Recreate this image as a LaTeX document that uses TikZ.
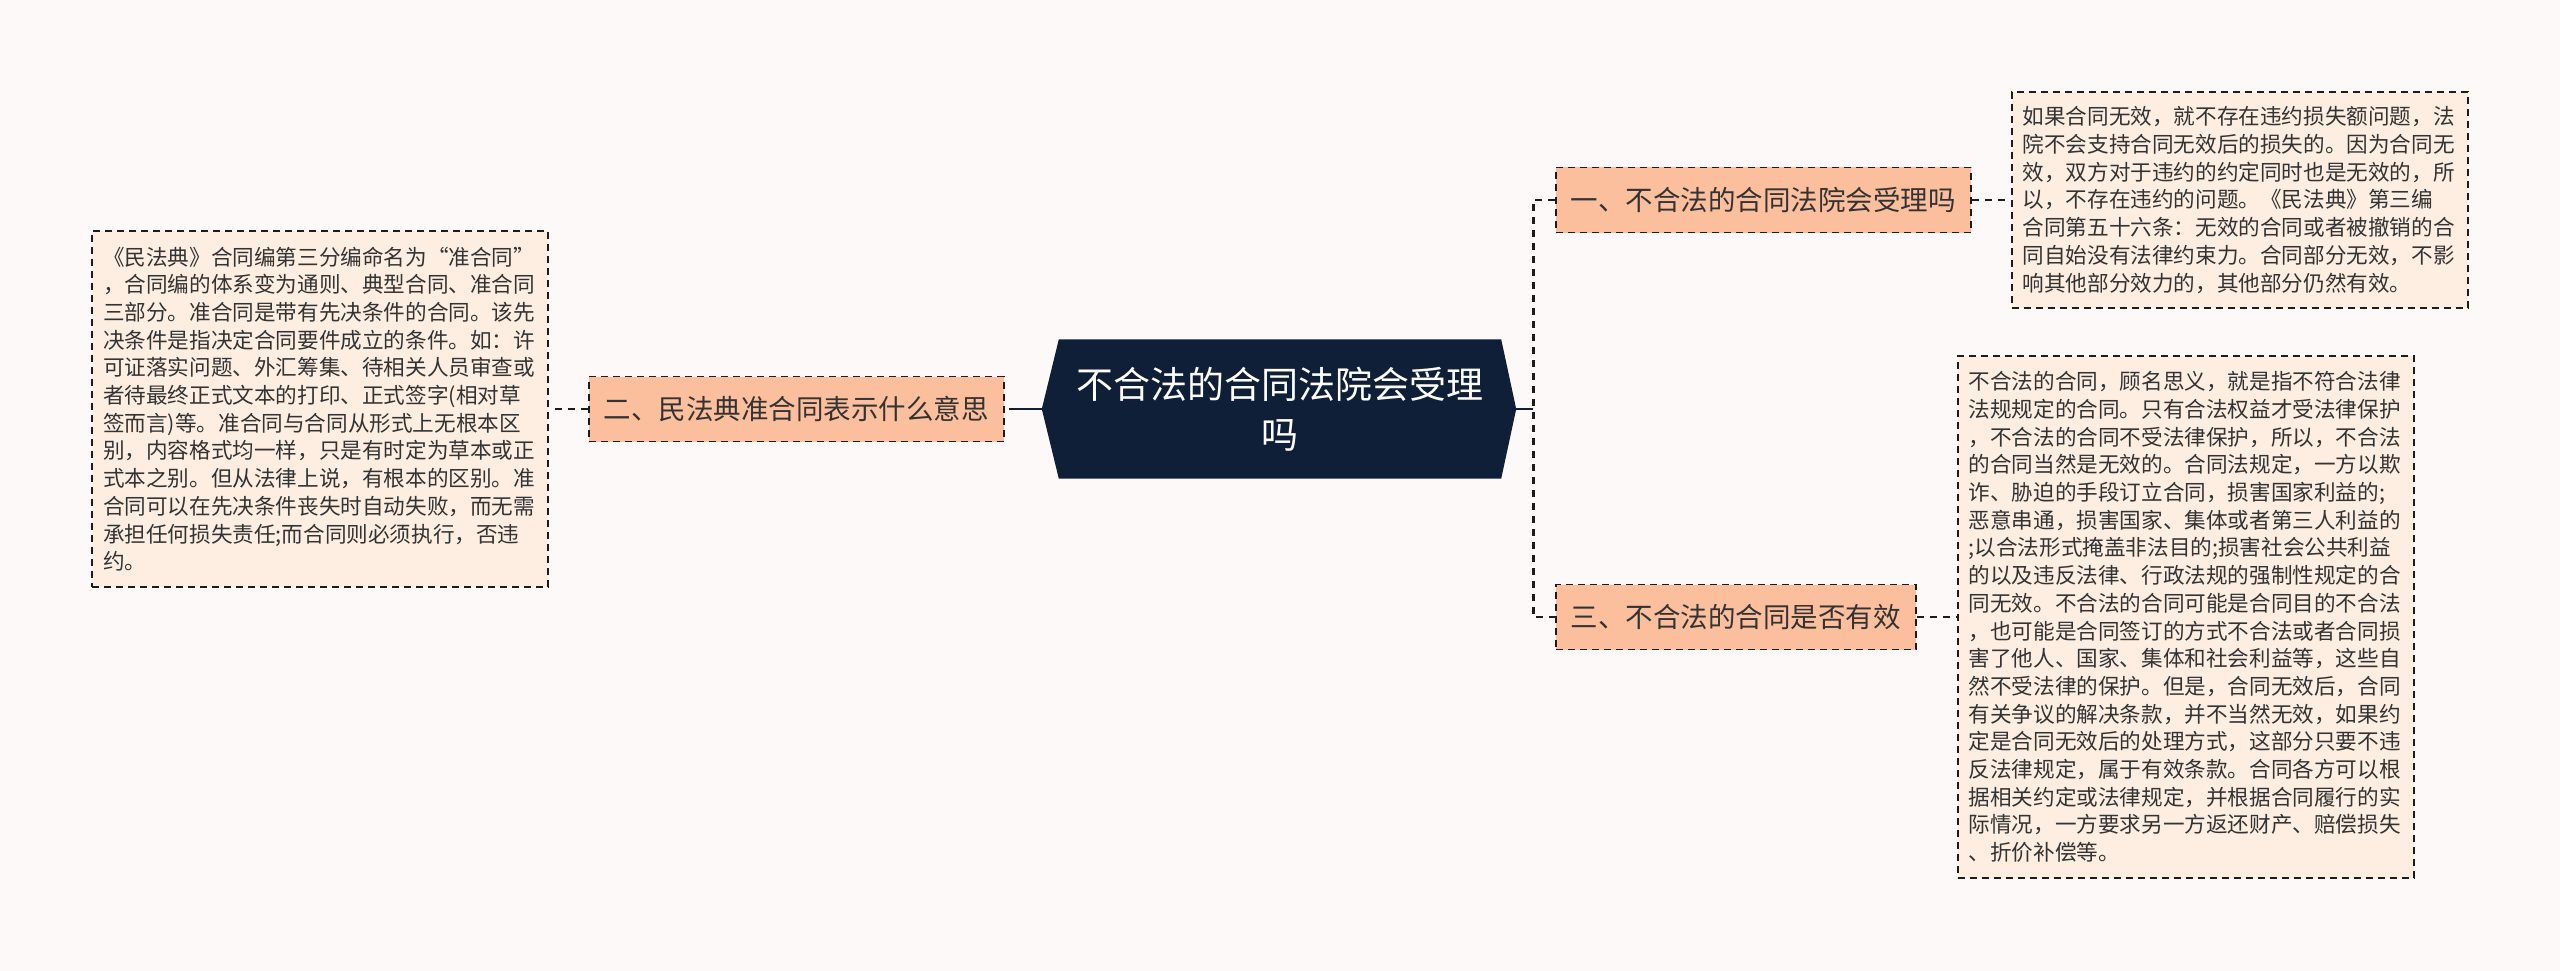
\documentclass[tikz,border=0pt]{standalone}
\usepackage{fontspec}
\newfontfamily\cjk{Noto Sans CJK SC}
\usepackage{xcolor}
\usetikzlibrary{positioning,backgrounds,calc}

\definecolor{pagebg}{HTML}{FDF9F8}
\definecolor{rootfill}{HTML}{0F1F38}
\definecolor{branchfill}{HTML}{FCBF9D}
\definecolor{leaffill}{HTML}{FDEEE1}
\definecolor{linecol}{HTML}{1C1C1C}
\definecolor{textcol}{HTML}{333333}

\begin{document}
\begin{tikzpicture}[
    x=1pt, y=-1pt,
    rootnode/.style={rectangle, minimum width=442pt, minimum height=139pt, inner sep=0pt, align=center, text=white, font=\cjk\fontsize{37}{50}\selectfont},
    branch/.style={rectangle, draw=linecol, line width=1.8pt, dash pattern=on 7pt off 5pt, fill=branchfill, minimum height=65pt, inner xsep=15pt, text=textcol, font=\cjk\fontsize{27.5}{33}\selectfont},
    leaf/.style={rectangle, draw=linecol, line width=1.8pt, dash pattern=on 7pt off 5pt, fill=leaffill, text width=434pt, inner xsep=11pt, inner ysep=0pt, align=left, text=textcol, font=\cjk\fontsize{21.6}{27.7}\selectfont},
    link/.style={draw=linecol, line width=2.6pt, dash pattern=on 7pt off 6pt},
    stub/.style={draw=rootfill, line width=2.6pt},
]

\useasboundingbox (0,0) rectangle (2560,971);
\begin{scope}[on background layer]
    \fill[pagebg] (0,0) rectangle (2560,971);
\end{scope}

% === ROOT ===
\node[rootnode] (root) at (1280,409) {不合法的合同法院会受理\\吗};
\coordinate (rootL) at ([xshift=-17pt]root.west);
\coordinate (rootR) at ([xshift=15pt]root.east);
\begin{scope}[on background layer]
    \fill[rootfill] (rootL) -- (root.north west) -- (root.north east) -- (rootR) -- (root.south east) -- (root.south west) -- cycle;
\end{scope}

% === BRANCHES ===
\node[branch, anchor=west] (b1) at (1555,200) {一、不合法的合同法院会受理吗};
\node[branch, left=54pt of root] (b2) {二、民法典准合同表示什么意思};
\node[branch, anchor=west] (b3) at (1555,617) {三、不合法的合同是否有效};

% === LEAVES ===
\node[leaf, minimum height=216pt, right=39pt of b1] (rtleaf) {如果合同无效，就不存在违约损失额问题，法\\院不会支持合同无效后的损失的。因为合同无\\效，双方对于违约的约定同时也是无效的，所\\以，不存在违约的问题。《民法典》第三编\\合同第五十六条：无效的合同或者被撤销的合\\同自始没有法律约束力。合同部分无效，不影\\响其他部分效力的，其他部分仍然有效。};
\node[leaf, minimum height=356pt, left=39pt of b2] (lleaf) {《民法典》合同编第三分编命名为“准合同”\\，合同编的体系变为通则、典型合同、准合同\\三部分。准合同是带有先决条件的合同。该先\\决条件是指决定合同要件成立的条件。如：许\\可证落实问题、外汇筹集、待相关人员审查或\\者待最终正式文本的打印、正式签字(相对草\\签而言)等。准合同与合同从形式上无根本区\\别，内容格式均一样，只是有时定为草本或正\\式本之别。但从法律上说，有根本的区别。准\\合同可以在先决条件丧失时自动失败，而无需\\承担任何损失责任;而合同则必须执行，否违\\约。};
\node[leaf, minimum height=522pt, right=40pt of b3] (rbleaf) {不合法的合同，顾名思义，就是指不符合法律\\法规规定的合同。只有合法权益才受法律保护\\，不合法的合同不受法律保护，所以，不合法\\的合同当然是无效的。合同法规定，一方以欺\\诈、胁迫的手段订立合同，损害国家利益的;\\恶意串通，损害国家、集体或者第三人利益的\\;以合法形式掩盖非法目的;损害社会公共利益\\的以及违反法律、行政法规的强制性规定的合\\同无效。不合法的合同可能是合同目的不合法\\，也可能是合同签订的方式不合法或者合同损\\害了他人、国家、集体和社会利益等，这些自\\然不受法律的保护。但是，合同无效后，合同\\有关争议的解决条款，并不当然无效，如果约\\定是合同无效后的处理方式，这部分只要不违\\反法律规定，属于有效条款。合同各方可以根\\据相关约定或法律规定，并根据合同履行的实\\际情况，一方要求另一方返还财产、赔偿损失\\、折价补偿等。};

% === CONNECTORS ===
\coordinate (spine) at ($(rootR)+(17,0)$);
\coordinate (lstub) at ($(rootL)+(-26,0)$);
\draw[stub] (rootR) -- (spine);
\draw[stub] (rootL) -- (lstub);
\draw[link] (b1.west) -| (spine) |- (b3.west);
\draw[link] (lstub) -- (b2.east);
\draw[link] (b2.west) -- (lleaf.east);
\draw[link] (b1.east) -- (rtleaf.west);
\draw[link] (b3.east) -- (rbleaf.west);

\end{tikzpicture}
\end{document}
